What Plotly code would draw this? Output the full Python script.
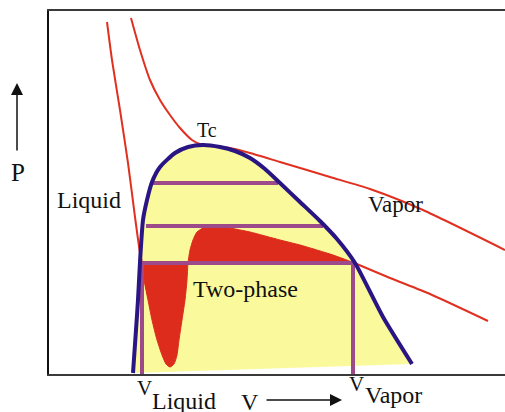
import plotly.graph_objects as go

# Saturation dome (V, P in arbitrary units)
dome_v = [84, 87, 89, 91, 94, 98, 103, 111, 126, 139, 154, 171, 186, 201, 216, 231, 251, 271, 288, 306, 334, 363]
dome_p = [1, 44, 74, 112, 154, 174, 192, 207, 221, 227, 229, 227, 223, 216, 205, 191, 172, 153, 135, 111, 57, 10]

# Critical isotherm
crit_v = [82, 91, 101, 111, 121, 131, 143, 151, 166, 181, 201, 231, 281, 321, 374, 456]
crit_p = [356, 324, 294, 274, 259, 246, 234, 230, 228, 226, 221, 212, 197, 185, 164, 124]

# Subcritical isotherm: liquid branch, van der Waals loop, vapor branch
liq_v = [58, 63, 71, 79, 86, 91, 93]
liq_p = [352, 314, 264, 211, 157, 121, 111]
loop_v = [93, 95, 99, 103, 108, 113, 117, 121, 125, 128, 130, 133, 136, 138, 139, 141, 144, 148, 156, 164, 181, 201, 231, 251, 284, 303]
loop_p = [111, 94, 74, 54, 34, 19, 10, 7, 10, 19, 34, 54, 74, 94, 111, 124, 134, 142, 147, 149, 146, 142, 134, 129, 119, 112]
vap_v = [303, 341, 381, 439]
vap_p = [112, 96, 80, 53]

# Tie lines (pressure, V start, V end)
tie_p = [191, 148, 111]
tie_v0 = [103, 97, 92]
tie_v1 = [229, 274, 304]
v_liquid = 93
v_vapor = 304

V_MAX = 456
P_MAX = 363

BLUE = "#2A1584"
RED = "#E03020"
REDFILL = "#DD2C1C"
PURPLE = "#9C4A8A"
YELLOW = "#FAFA9C"

fig = go.Figure()
fig.add_trace(go.Scatter(x=dome_v, y=dome_p, mode="lines", fill="toself",
                         fillcolor=YELLOW, line=dict(color=YELLOW, width=0, shape="spline", smoothing=0.6)))
fig.add_trace(go.Scatter(x=loop_v, y=loop_p, mode="lines", fill="toself",
                         fillcolor=REDFILL, line=dict(color=REDFILL, width=1, shape="spline", smoothing=0.6)))
fig.add_trace(go.Scatter(x=crit_v, y=crit_p, mode="lines",
                         line=dict(color=RED, width=2, shape="spline", smoothing=0.6)))
fig.add_trace(go.Scatter(x=liq_v, y=liq_p, mode="lines",
                         line=dict(color=RED, width=2, shape="spline", smoothing=0.6)))
fig.add_trace(go.Scatter(x=vap_v, y=vap_p, mode="lines",
                         line=dict(color=RED, width=2, shape="spline", smoothing=0.6)))
for p, a, b in zip(tie_p, tie_v0, tie_v1):
    fig.add_trace(go.Scatter(x=[a, b], y=[p, p], mode="lines", line=dict(color=PURPLE, width=4)))
for v in [v_liquid, v_vapor]:
    fig.add_trace(go.Scatter(x=[v, v], y=[tie_p[2], -1], mode="lines", line=dict(color=PURPLE, width=4),
                             cliponaxis=False))
fig.add_trace(go.Scatter(x=dome_v, y=dome_p, mode="lines",
                         line=dict(color=BLUE, width=4, shape="spline", smoothing=0.6)))

FONT = "Liberation Serif, Times New Roman, serif"


def txt(v, p, s, size):
    # position given in V/P units, converted to axis-domain fractions so labels outside the axes still show
    fig.add_annotation(x=v / V_MAX, y=p / P_MAX, text=s, showarrow=False, xref="x domain", yref="y domain",
                       xanchor="center", yanchor="middle",
                       font=dict(family=FONT, size=size, color="#111"))


txt(158, 244, "Tc", 20)
txt(39.5, 174, "Liquid", 24)
txt(346, 169.5, "Vapor", 23)
txt(196.5, 85, "Two-phase", 24)
txt(-31, 201, "P", 25)
txt(201, -28, "V", 24)
txt(95, -13.5, "V", 21)
txt(134.5, -26.5, "Liquid", 24)
txt(307.5, -9.5, "V", 21)
txt(344, -20.5, "Vapor", 24)


def arrow(v0, p0, v1, p1):
    fig.add_annotation(x=v1 / V_MAX, y=p1 / P_MAX, ax=v0 / V_MAX, ay=p0 / P_MAX,
                       xref="x domain", yref="y domain", axref="x domain", ayref="y domain",
                       text="", showarrow=True, arrowhead=2, arrowsize=1.6, arrowwidth=1.5,
                       arrowcolor="#111")


arrow(-32, 222, -32, 291)   # P increasing
arrow(216, -26, 293, -26)   # V increasing

fig.update_layout(
    width=505, height=412, autosize=False,
    margin=dict(l=49, r=0, t=11, b=38),
    paper_bgcolor="white", plot_bgcolor="white",
    showlegend=False, hovermode=False,
    xaxis=dict(range=[0, V_MAX], showgrid=False, zeroline=False, showticklabels=False, ticks="",
               showline=True, linecolor="#3a3a3a", linewidth=1.5, mirror=True),
    yaxis=dict(range=[0, P_MAX], showgrid=False, zeroline=False, showticklabels=False, ticks="",
               showline=True, linecolor="#111", linewidth=1.5),
)

fig.write_html("out.html", config={"displayModeBar": False},
               post_script="document.body.style.margin='0px';document.body.style.overflow='hidden';")
